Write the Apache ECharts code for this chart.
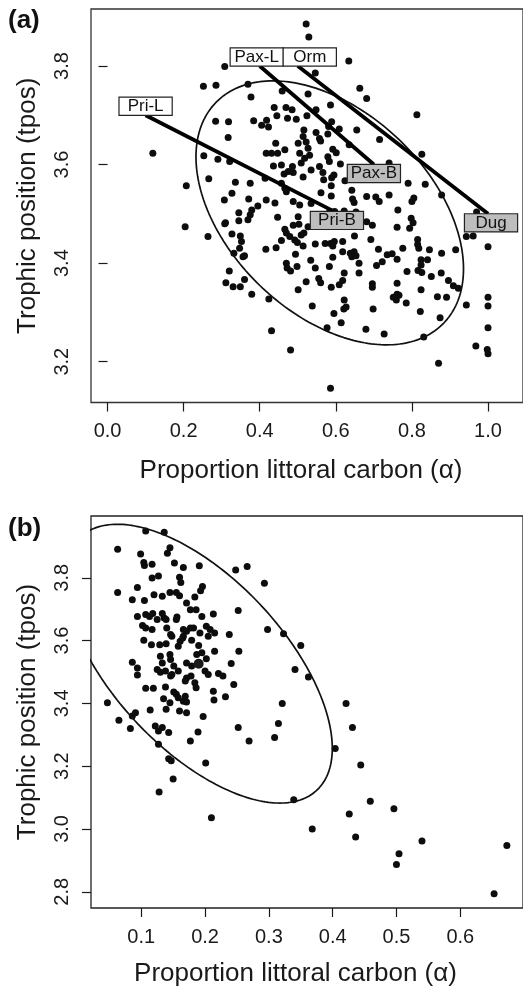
<!DOCTYPE html>
<html><head><meta charset="utf-8">
<script src="https://cdn.jsdelivr.net/npm/echarts@6/dist/echarts.min.js"></script>
<style>html,body{margin:0;padding:0;background:#fff}#c{width:523px;height:988px}</style>
</head><body><div id="c"></div>
<script>
// ---------- DATA ----------
const pointsA = [
[0.522,3.885],[0.529,3.859],[0.308,3.799],[0.252,3.759],[0.285,3.761],[0.369,3.763],[0.377,3.737],[0.459,3.749],[0.527,3.743],[0.438,3.716],[0.469,3.716],[0.485,3.711],[0.445,3.699],[0.473,3.694],[0.496,3.692],[0.284,3.688],[0.318,3.687],[0.384,3.689],[0.405,3.680],[0.418,3.690],[0.423,3.676],[0.524,3.699],[0.317,3.655],[0.442,3.643],[0.516,3.670],[0.514,3.657],[0.522,3.646],[0.119,3.623],[0.253,3.618],[0.290,3.611],[0.321,3.606],[0.417,3.623],[0.431,3.623],[0.447,3.623],[0.466,3.630],[0.501,3.643],[0.505,3.623],[0.527,3.633],[0.531,3.619],[0.518,3.613],[0.509,3.603],[0.436,3.597],[0.457,3.599],[0.486,3.596],[0.475,3.586],[0.464,3.581],[0.488,3.584],[0.514,3.575],[0.535,3.589],[0.266,3.571],[0.207,3.557],[0.336,3.564],[0.375,3.562],[0.414,3.572],[0.457,3.562],[0.466,3.552],[0.470,3.545],[0.327,3.542],[0.307,3.528],[0.371,3.530],[0.395,3.516],[0.417,3.528],[0.440,3.522],[0.488,3.525],[0.505,3.518],[0.535,3.521],
[0.634,3.810],[0.546,3.786],[0.663,3.755],[0.681,3.734],[0.586,3.721],[0.813,3.701],[0.548,3.711],[0.589,3.687],[0.581,3.677],[0.579,3.662],[0.609,3.672],[0.655,3.670],[0.548,3.665],[0.557,3.653],[0.560,3.648],[0.715,3.651],[0.635,3.640],[0.592,3.631],[0.601,3.624],[0.826,3.621],[0.579,3.616],[0.583,3.606],[0.612,3.601],[0.557,3.596],[0.566,3.584],[0.740,3.603],[0.595,3.579],[0.589,3.573],[0.568,3.569],[0.624,3.567],[0.588,3.557],[0.561,3.543],[0.642,3.548],[0.790,3.562],[0.835,3.560],[0.878,3.538],[0.588,3.536],[0.644,3.530],[0.648,3.523],[0.681,3.535],[0.705,3.534],[0.714,3.525],[0.740,3.538],[0.805,3.532],[0.800,3.525],[0.970,3.504],
[0.584,3.505],[0.597,3.505],[0.622,3.506],[0.653,3.504],
[0.379,3.508],[0.375,3.498],[0.369,3.488],[0.345,3.502],[0.345,3.486],[0.447,3.493],[0.501,3.494],[0.488,3.477],[0.503,3.479],[0.466,3.469],[0.470,3.461],[0.479,3.454],[0.492,3.447],[0.499,3.442],[0.509,3.457],[0.516,3.461],[0.527,3.474],[0.204,3.474],[0.264,3.454],[0.310,3.482],[0.308,3.480],[0.327,3.459],[0.349,3.455],[0.352,3.444],[0.347,3.430],[0.332,3.420],[0.356,3.413],[0.360,3.415],[0.416,3.428],[0.443,3.431],[0.457,3.446],[0.514,3.435],[0.494,3.418],[0.470,3.400],[0.472,3.390],[0.481,3.384],[0.498,3.393],[0.522,3.362],[0.320,3.384],[0.311,3.360],[0.330,3.352],[0.349,3.352],[0.360,3.367],[0.379,3.337],[0.424,3.327],[0.501,3.346],[0.431,3.263],[0.481,3.224],
[0.763,3.508],[0.681,3.484],[0.696,3.477],[0.761,3.473],[0.803,3.482],[0.798,3.491],[0.794,3.471],[0.546,3.439],[0.572,3.440],[0.586,3.440],[0.596,3.444],[0.592,3.435],[0.618,3.444],[0.618,3.423],[0.638,3.420],[0.648,3.423],[0.642,3.413],[0.653,3.415],[0.649,3.455],[0.692,3.448],[0.712,3.428],[0.776,3.430],[0.815,3.448],[0.815,3.438],[0.818,3.430],[0.846,3.427],[0.878,3.420],[0.915,3.427],[1.000,3.433],[0.943,3.454],[0.961,3.455],[0.534,3.406],[0.592,3.412],[0.661,3.400],[0.722,3.403],[0.735,3.417],[0.748,3.419],[0.761,3.408],[0.707,3.395],[0.824,3.407],[0.824,3.396],[0.841,3.407],[0.546,3.390],[0.583,3.393],[0.787,3.383],[0.816,3.385],[0.826,3.381],[0.877,3.380],[0.851,3.373],[0.896,3.365],[0.909,3.354],[0.922,3.349],[0.555,3.369],[0.560,3.360],[0.622,3.380],[0.661,3.380],[0.588,3.351],[0.609,3.356],[0.618,3.365],[0.696,3.358],[0.696,3.351],[0.761,3.359],[0.824,3.346],[0.538,3.313],[0.622,3.325],[0.627,3.311],[0.621,3.307],[0.595,3.298],[0.698,3.307],[0.751,3.331],[0.759,3.325],[0.766,3.335],[0.761,3.337],[0.785,3.319],[0.822,3.302],[0.867,3.332],[0.891,3.331],[0.943,3.315],[1.000,3.331],[1.000,3.313],[0.614,3.279],[0.577,3.269],[0.679,3.266],[0.727,3.256],[0.874,3.289],[0.831,3.250],[1.000,3.269],[0.968,3.232],[0.998,3.225],[1.000,3.216],[0.870,3.197],[0.586,3.146]
];

const pointsB = [
[0.107,3.949],[0.136,3.945],[0.063,3.891],[0.099,3.876],[0.141,3.878],[0.145,3.896],[0.104,3.849],[0.105,3.839],[0.117,3.843],[0.152,3.847],[0.166,3.833],[0.191,3.838],[0.248,3.825],[0.266,3.836],[0.117,3.799],[0.127,3.806],[0.160,3.802],[0.162,3.785],[0.293,3.783],[0.063,3.753],[0.094,3.769],[0.086,3.730],[0.105,3.728],[0.120,3.746],[0.133,3.741],[0.145,3.753],[0.155,3.753],[0.160,3.743],[0.196,3.772],[0.193,3.759],[0.184,3.739],[0.171,3.720],[0.177,3.698],[0.186,3.698],[0.252,3.696],[0.094,3.677],[0.107,3.683],[0.113,3.677],[0.118,3.686],[0.125,3.667],[0.133,3.686],[0.136,3.672],[0.139,3.667],[0.156,3.675],[0.155,3.667],[0.195,3.677],[0.213,3.685],[0.102,3.648],[0.107,3.640],[0.117,3.635],[0.140,3.640],[0.146,3.619],[0.148,3.614],[0.166,3.635],[0.171,3.630],[0.177,3.640],[0.166,3.614],[0.161,3.598],[0.158,3.582],[0.165,3.608],[0.182,3.640],[0.192,3.624],[0.202,3.646],[0.208,3.635],[0.205,3.614],[0.215,3.624],[0.104,3.601],[0.116,3.587],[0.129,3.587],[0.139,3.590],[0.179,3.601],[0.190,3.584],[0.238,3.619],[0.298,3.635],[0.130,3.550],[0.145,3.556],[0.146,3.540],[0.133,3.529],[0.125,3.508],[0.130,3.499],[0.138,3.503],[0.151,3.519],[0.148,3.492],[0.146,3.487],[0.171,3.529],[0.179,3.519],[0.187,3.556],[0.195,3.561],[0.202,3.542],[0.200,3.503],[0.205,3.492],[0.215,3.566],[0.221,3.495],[0.228,3.487],[0.241,3.527],[0.253,3.566],[0.086,3.531],[0.094,3.513],[0.094,3.490],[0.171,3.481],[0.169,3.471],[0.178,3.487],[0.184,3.466],[0.186,3.450],[0.158,3.503],[0.107,3.448],[0.119,3.448],[0.138,3.452],[0.151,3.436],[0.155,3.429],[0.158,3.418],[0.166,3.407],[0.169,3.423],[0.171,3.404],[0.135,3.415],[0.145,3.402],[0.213,3.439],[0.214,3.411],[0.232,3.421],[0.245,3.460],[0.047,3.402],[0.114,3.379],[0.139,3.381],[0.160,3.376],[0.171,3.370],[0.091,3.370],[0.086,3.360],[0.197,3.358],[0.065,3.346],[0.083,3.320],[0.122,3.328],[0.133,3.323],[0.127,3.312],[0.143,3.307],[0.189,3.309],[0.177,3.280],[0.252,3.323],[0.269,3.280],[0.127,3.270],[0.143,3.224],
[0.323,3.622],[0.350,3.584],[0.341,3.508],[0.362,3.484],[0.421,3.400],[0.321,3.400],[0.315,3.336],[0.431,3.323],[0.309,3.291],[0.404,3.256],[0.147,3.217],[0.201,3.210],[0.150,3.159],[0.128,3.118],[0.444,3.204],[0.339,3.093],[0.459,3.088],[0.210,3.036],[0.496,3.064],[0.426,3.048],[0.368,3.000],[0.436,2.974],[0.540,2.962],[0.504,2.921],[0.500,2.887],[0.673,2.947],[0.653,2.794]
];
const centroidB = [[0.190, 3.526]];

// ellipse parameters (centre and covariance-style shape, data units)
const ellipseA = {cx: 0.584, cy: 3.502, sxx: 0.1236, syy: 0.07169, sxy: -0.03993};
const ellipseB = {cx: 0.1898, cy: 3.5265, sxx: 0.04394, syy: 0.1971, sxy: -0.05656};

// connecting segments between littoral (L) and benthic (B) estimates
const segStart = [[0.10, 3.70], [0.40, 3.80], [0.50, 3.80]];
const segEnd   = [[0.595, 3.505], [0.70, 3.60], [1.00, 3.50]];
const startLabels = ['Pri-L', 'Pax-L', 'Orm'];
const endLabels   = ['Pri-B', 'Pax-B', 'Dug'];

const xTicksA = [0, 0.2, 0.4, 0.6, 0.8, 1.0];
const yTicksA = [3.2, 3.4, 3.6, 3.8];
const xTicksB = [0.1, 0.2, 0.3, 0.4, 0.5, 0.6];
const yTicksB = [2.8, 3.0, 3.2, 3.4, 3.6, 3.8];

const xTitle = 'Proportion littoral carbon (\u03B1)';
const yTitle = 'Trophic position (tpos)';

// ---------- STYLE / LAYOUT ----------
const FONT = '"Liberation Sans", Arial, Helvetica, sans-serif';
const INK = '#1a1a1a';
const startOffsets = [[0, 0], [-3, 0], [12, 0]];
const endOffsets = [[3, 0], [0, 0], [3, 0]];

function ellipsePoints(e, n) {
  const l11 = Math.sqrt(e.sxx);
  const l21 = e.sxy / l11;
  const l22 = Math.sqrt(e.syy - l21 * l21);
  const out = [];
  for (let i = 0; i <= n; i++) {
    const t = 2 * Math.PI * i / n;
    const u = Math.cos(t), v = Math.sin(t);
    out.push([e.cx + l11 * u, e.cy + l21 * u + l22 * v]);
  }
  return out;
}

function xAxis(idx, min, max, ticks, gap, shift) {
  return {
    type: 'value', gridIndex: idx, min: min, max: max,
    axisLine: {show: false},
    splitLine: {show: false},
    axisTick: {show: true, customValues: ticks, length: 9, inside: false, lineStyle: {color: INK, width: 1.2}},
    axisLabel: {show: true, customValues: ticks, margin: 19, color: INK, fontSize: 20, fontFamily: FONT,
      formatter: v => v.toFixed(1)},
    name: xTitle, nameLocation: 'middle', nameGap: gap,
    nameTextStyle: {fontSize: 26, fontFamily: FONT, color: INK, padding: [0, shift, 0, 0]}
  };
}
function yAxis(idx, min, max, ticks) {
  return {
    type: 'value', gridIndex: idx, min: min, max: max,
    axisLine: {show: false},
    splitLine: {show: false},
    axisTick: {show: true, customValues: ticks, length: 9, inside: false, lineStyle: {color: INK, width: 1.2}},
    axisLabel: {show: true, customValues: ticks, margin: 19, rotate: 90, color: INK, fontSize: 20, fontFamily: FONT,
      formatter: v => v.toFixed(1)},
    name: yTitle, nameLocation: 'middle', nameGap: 50, nameRotate: 90,
    nameTextStyle: {fontSize: 26, fontFamily: FONT, color: INK}
  };
}

function labelSeries(pts, names, fill, pos, offsets) {
  return {
    type: 'scatter', xAxisIndex: 0, yAxisIndex: 0, symbolSize: 1, z: 6, silent: true,
    itemStyle: {color: 'rgba(0,0,0,0)', opacity: 1},
    data: pts.map((p, i) => ({value: p, name: names[i], label: {offset: offsets[i]}})),
    label: {show: true, position: pos, distance: 0, formatter: '{b}', color: '#111', fontSize: 17, fontFamily: FONT,
      opacity: 1, width: 52, height: 17, lineHeight: 17, padding: 0, backgroundColor: fill, borderColor: '#222', borderWidth: 1.2}
  };
}

const segSeries = segStart.map((s, i) => ({
  type: 'line', xAxisIndex: 0, yAxisIndex: 0, data: [s, segEnd[i]], showSymbol: false, symbol: 'none',
  lineStyle: {color: '#000', width: 3.8}, z: 5, silent: true
}));

const option = {
  animation: false,
  backgroundColor: '#fff',
  grid: [
    {left: 91, top: 9, width: 436, height: 393.5, show: true, borderColor: '#333', borderWidth: 1.3, backgroundColor: 'transparent'},
    {left: 91, top: 516, width: 436, height: 393.3, show: true, borderColor: '#222', borderWidth: 1.3, backgroundColor: 'transparent'}
  ],
  xAxis: [
    xAxis(0, -0.04349, 1.09193, xTicksA, 55, 12),
    xAxis(1, 0.02127, 0.6983, xTicksB, 53, 23)
  ],
  yAxis: [
    yAxis(0, 3.11724, 3.91562, yTicksA),
    yAxis(1, 2.74825, 3.99683, yTicksB)
  ],
  graphic: [
    {type: 'text', left: 8, top: 8, style: {text: '(a)', font: 'bold 26px ' + FONT, fill: '#111'}},
    {type: 'text', left: 8, top: 516, style: {text: '(b)', font: 'bold 26px ' + FONT, fill: '#111'}}
  ],
  series: [
    {type: 'scatter', xAxisIndex: 0, yAxisIndex: 0, data: pointsA, symbolSize: 7,
      itemStyle: {color: '#0d0d0d', opacity: 1}, z: 2, silent: true},
    {type: 'line', xAxisIndex: 0, yAxisIndex: 0, data: ellipsePoints(ellipseA, 240), showSymbol: false, symbol: 'none',
      lineStyle: {color: '#111', width: 1.7}, z: 3, silent: true},
    ...segSeries,
    labelSeries(segStart, startLabels, '#ffffff', 'top', startOffsets),
    labelSeries(segEnd, endLabels, '#bdbdbd', 'bottom', endOffsets),
    {type: 'scatter', xAxisIndex: 1, yAxisIndex: 1, data: pointsB, symbolSize: 7,
      itemStyle: {color: '#0d0d0d', opacity: 1}, z: 2, silent: true},
    {type: 'scatter', xAxisIndex: 1, yAxisIndex: 1, data: centroidB, symbolSize: 10,
      itemStyle: {color: '#1a1a1a', opacity: 1}, z: 2, silent: true},
    {type: 'line', xAxisIndex: 1, yAxisIndex: 1, data: ellipsePoints(ellipseB, 240), showSymbol: false, symbol: 'none',
      lineStyle: {color: '#111', width: 1.7}, z: 3, silent: true, clip: true}
  ]
};

const chart = echarts.init(document.getElementById('c'), null, {renderer: 'canvas'});
chart.setOption(option);
</script>
</body></html>
